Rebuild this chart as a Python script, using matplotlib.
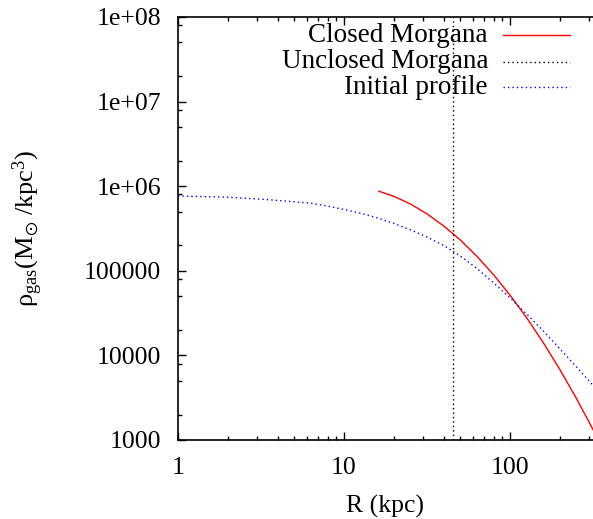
import numpy as np
import matplotlib
matplotlib.use("Agg")
import matplotlib.pyplot as plt
from matplotlib.ticker import LogLocator, FixedLocator, FixedFormatter, NullFormatter
from matplotlib.lines import Line2D

plt.rcParams['font.family'] = ['Liberation Serif', 'DejaVu Serif']
plt.rcParams['mathtext.fontset'] = 'custom'
plt.rcParams['mathtext.rm'] = 'Liberation Serif'
plt.rcParams['mathtext.it'] = 'Liberation Serif:italic'
plt.rcParams['mathtext.fallback'] = 'stixsans'

# Gas density profiles (R in kpc, rho in Msun/kpc^3)
r_closed = [16.1, 19.95, 25.1, 31.6, 39.8, 50.1, 63.1, 79.4, 100.0, 125.9,
            158.5, 199.5, 251.2, 316.2, 338.8]
rho_closed = [8.77e5, 7.60e5, 6.17e5, 4.71e5, 3.40e5, 2.32e5, 1.49e5, 9.03e4, 5.16e4, 2.79e4,
              1.42e4, 6.83e3, 3.10e3, 1.33e3, 1.02e3]

r_init = [1.0, 2.0, 3.55, 6.24, 7.94, 10.0, 12.6, 15.85, 19.95, 25.1, 31.6, 39.8,
          50.1, 63.1, 79.4, 100.0, 125.9, 158.5, 199.5, 251.2, 316.2, 338.8]
rho_init = [7.66e5, 7.41e5, 6.92e5, 6.31e5, 5.82e5, 5.31e5, 4.79e5, 4.22e5, 3.63e5, 3.05e5,
            2.51e5, 2.0e5, 1.50e5, 1.07e5, 7.24e4, 4.79e4, 3.09e4, 1.95e4, 1.20e4, 7.33e3,
            4.42e3, 3.80e3]

r_unclosed = 45.2

x_ticks = [1, 10, 100]
x_labels = ['1', '10', '100']
y_ticks = [1e3, 1e4, 1e5, 1e6, 1e7, 1e8]
y_labels = ['1000', '10000', '100000', '1e+06', '1e+07', '1e+08']

W, H = 593, 519
fig = plt.figure(figsize=(W / 100, H / 100), dpi=100)
ax = fig.add_axes([178 / W, 1 - 440 / H, 1 - 178 / W, (440 - 17) / H])

ax.set_xscale('log')
ax.set_yscale('log')
ax.set_xlim(1, 10 ** ((W - 178) / 166.0))
ax.set_ylim(1e3, 1e8)

dots = (0, (1, 2.2))
ax.plot(r_closed, rho_closed, color='#ff0000', lw=1.0, solid_capstyle='butt')
ax.axvline(r_unclosed, color='#000000', lw=1.0, linestyle=dots)
ax.plot(r_init, rho_init, color='#0000ff', lw=1.0, linestyle=dots)

# axis decorations
for s in ax.spines.values():
    s.set_linewidth(1.2)
ax.spines['right'].set_visible(False)
ax.xaxis.set_major_locator(FixedLocator(x_ticks))
ax.xaxis.set_major_formatter(FixedFormatter(x_labels))
ax.xaxis.set_minor_locator(LogLocator(base=10, subs=np.arange(2, 10)))
ax.xaxis.set_minor_formatter(NullFormatter())
ax.yaxis.set_major_locator(FixedLocator(y_ticks))
ax.yaxis.set_major_formatter(FixedFormatter(y_labels))
ax.yaxis.set_minor_locator(LogLocator(base=10, subs=[2, 5, 8]))
ax.yaxis.set_minor_formatter(NullFormatter())
ax.tick_params(which='both', direction='in', top=True, right=False, labelsize=18.5, width=1.0)
ax.tick_params(which='major', length=6)
ax.tick_params(which='minor', length=3)
ax.tick_params(axis='x', which='major', pad=12)
ax.tick_params(axis='y', which='major', pad=12)

ax.set_xlabel('R (kpc)', fontsize=18.5, labelpad=12)
ax.set_ylabel('ρ$_{\\rm gas}$(M$_{\\odot}$ /kpc$^{3}$)', fontsize=19, labelpad=28)

# key at the upper right
key = [('Closed Morgana', '#ff0000', '-'),
       ('Unclosed Morgana', '#000000', dots),
       ('Initial profile', '#0000ff', dots)]
rows_y = [35, 61.5, 87]
for (label, color, ls), yp in zip(key, rows_y):
    fy = 1 - yp / H
    fig.text(488 / W, fy, label, ha='right', va='center', fontsize=19.5)
    fig.add_artist(Line2D([503 / W, 570 / W], [fy, fy], color=color, lw=1.0, linestyle=ls,
                          transform=fig.transFigure))

fig.savefig('out.png', dpi=100)
